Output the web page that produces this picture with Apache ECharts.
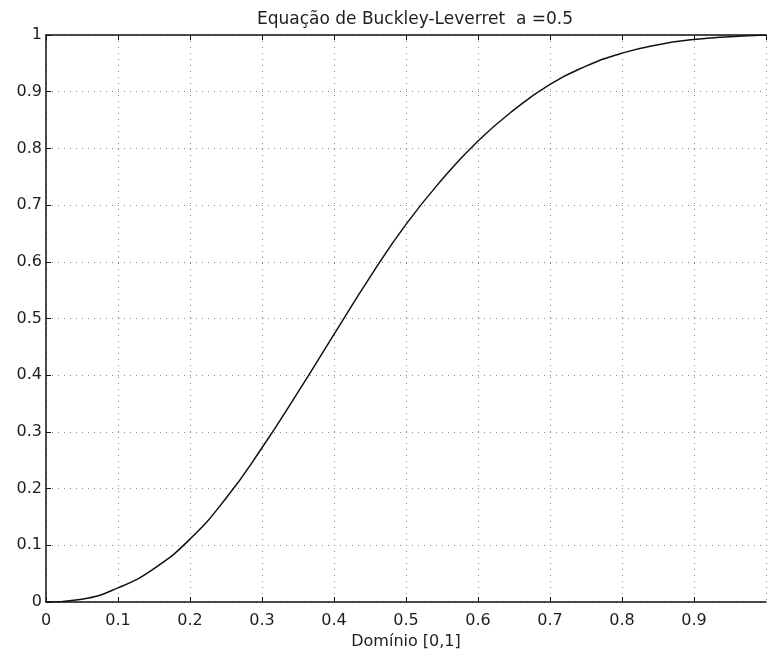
<!DOCTYPE html>
<html>
<head>
<meta charset="utf-8">
<script src="https://cdn.jsdelivr.net/npm/echarts@6/dist/echarts.min.js"></script>
<style>
  html, body { margin: 0; padding: 0; background: #fff; }
  #chart { width: 768px; height: 656px; }
</style>
</head>
<body>
<div id="chart"></div>
<script>
// Fractional flow curve, Buckley-Leverett, a = 0.5
const saturation = [0, 0.05, 0.1, 0.15, 0.2, 0.25, 0.3, 0.35, 0.4, 0.45, 0.5,
                    0.55, 0.6, 0.65, 0.7, 0.75, 0.8, 0.85, 0.9, 0.95, 1.0];
const fluxo = [0, 0.005, 0.025, 0.059, 0.111, 0.183, 0.272, 0.370, 0.472, 0.573, 0.666,
               0.745, 0.813, 0.868, 0.913, 0.945, 0.968, 0.983, 0.992, 0.997, 1.0];
const xTicks = ['0', '0.1', '0.2', '0.3', '0.4', '0.5', '0.6', '0.7', '0.8', '0.9'];
const yTicks = ['0', '0.1', '0.2', '0.3', '0.4', '0.5', '0.6', '0.7', '0.8', '0.9', '1'];

const titleText = 'Equação de Buckley-Leverret  a =0.5';
const xName = 'Domínio [0,1]';

const font = 'DejaVu Sans, Verdana, sans-serif';
const textColor = '#1e1e1e';
const gridLine = { show: true, lineStyle: { color: '#8a8a8a', type: [1, 5], width: 1 } };
const boxLine = { show: true, lineStyle: { color: '#111', width: 1.5 } };
const innerTick = { show: true, inside: true, length: 5, lineStyle: { color: '#111' } };

const chart = echarts.init(document.getElementById('chart'), null, { renderer: 'canvas' });
chart.setOption({
  backgroundColor: '#fff',
  animation: false,
  title: {
    text: titleText,
    left: 410, top: 6, textAlign: 'center',
    textStyle: { fontFamily: font, fontSize: 17, fontWeight: 'normal', color: textColor }
  },
  grid: { left: 46, right: 2, top: 35, bottom: 54 },
  xAxis: [{
    type: 'value', min: 0, max: 1, interval: 0.1,
    position: 'bottom',
    name: xName, nameLocation: 'middle', nameGap: 29,
    nameTextStyle: { fontFamily: font, fontSize: 16, color: textColor },
    axisLine: boxLine,
    axisTick: innerTick,
    axisLabel: {
      fontFamily: font, fontSize: 16, color: textColor, margin: 11,
      showMaxLabel: false,
      formatter: (v) => { const i = Math.round(v * 10); return i < xTicks.length ? xTicks[i] : ''; }
    },
    splitLine: gridLine
  }, {
    type: 'value', min: 0, max: 1, interval: 0.1,
    position: 'top',
    axisLine: boxLine,
    axisTick: innerTick,
    axisLabel: { show: false },
    splitLine: { show: false }
  }],
  yAxis: {
    type: 'value', min: 0, max: 1, interval: 0.1,
    axisLine: boxLine,
    axisTick: innerTick,
    axisLabel: {
      fontFamily: font, fontSize: 16, color: textColor, margin: 4,
      formatter: (v) => yTicks[Math.round(v * 10)]
    },
    splitLine: gridLine
  },
  series: [{
    type: 'line',
    data: saturation.map((s, i) => [s, fluxo[i]]),
    smooth: true,
    showSymbol: false,
    lineStyle: { color: '#111', width: 1.5 },
    clip: true
  }]
});
</script>
</body>
</html>
